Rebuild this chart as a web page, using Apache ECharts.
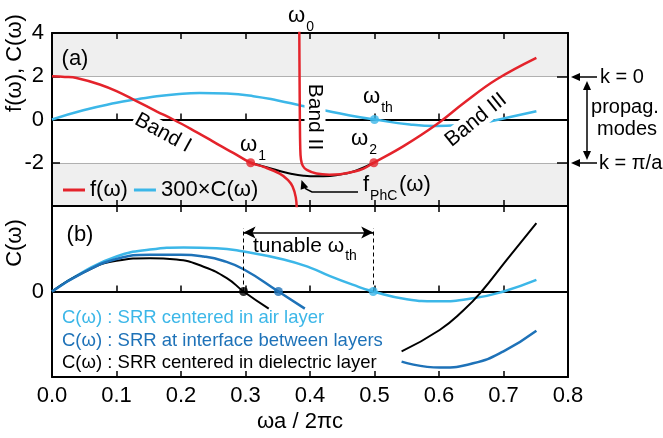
<!DOCTYPE html>
<html>
<head>
<meta charset="utf-8">
<script src="https://cdn.jsdelivr.net/npm/echarts@6/dist/echarts.min.js"></script>
<style>
  html, body { margin: 0; padding: 0; background: #fff; }
  #main { width: 663px; height: 438px; }
</style>
</head>
<body>
<div id="main"></div>
<script>
// 数据
var fBand1 = [[0, 2.0], [0.02, 1.97], [0.038, 1.92], [0.074, 1.62], [0.1, 1.31], [0.131, 0.85], [0.162, 0.38],
  [0.188, 0], [0.215, -0.43], [0.24, -0.85], [0.26, -1.2], [0.281, -1.54], [0.308, -2.0], [0.328, -2.19],
  [0.353, -2.5], [0.366, -2.8], [0.373, -3.1], [0.378, -3.6], [0.3795, -4.2]];
var fBand2 = [[0.3834, 4.2], [0.3838, 2], [0.3843, 0], [0.3848, -1.2], [0.386, -1.85], [0.389, -2.15], [0.395, -2.33],
  [0.41, -2.5], [0.43, -2.55], [0.447, -2.53], [0.467, -2.42], [0.483, -2.27], [0.499, -2.0], [0.545, -1.23],
  [0.596, -0.23], [0.64, 0.8], [0.689, 1.85], [0.751, 2.85]];
var fPhc = [[0.308, -2.0], [0.328, -2.17], [0.353, -2.38], [0.372, -2.52], [0.39, -2.6], [0.41, -2.63],
  [0.431, -2.61], [0.455, -2.5], [0.472, -2.36], [0.499, -2.0]];
var c300 = [[0, 0], [0.0485, 0.43], [0.1, 0.77], [0.131, 0.93], [0.152, 1.03], [0.193, 1.17], [0.229, 1.23],
  [0.271, 1.2], [0.312, 1.08], [0.35, 0.88], [0.387, 0.64], [0.421, 0.43], [0.46, 0.2], [0.5, 0],
  [0.555, -0.23], [0.596, -0.3], [0.63, -0.26], [0.669, -0.14], [0.705, 0.08], [0.751, 0.38]];
var dotsA = [[0.308, -2.0], [0.499, -2.0]];
var dotThA = [[0.5, 0]];

var cAir = [[0, 0], [0.0485, 0.23], [0.1, 0.41], [0.152, 0.49], [0.204, 0.515], [0.255, 0.507], [0.297, 0.468],
  [0.359, 0.375], [0.4, 0.28], [0.431, 0.18], [0.466, 0.08], [0.498, 0], [0.55, -0.09], [0.596, -0.115],
  [0.653, -0.08], [0.7, 0], [0.751, 0.135]];
var cIface1 = [[0, 0], [0.0485, 0.22], [0.1, 0.38], [0.152, 0.43], [0.2, 0.43], [0.235, 0.41], [0.265, 0.36],
  [0.297, 0.26], [0.351, 0], [0.392, -0.2]];
var cIface2 = [[0.542, -0.82], [0.601, -0.89], [0.653, -0.84], [0.7, -0.70], [0.751, -0.46]];
var cDiel1 = [[0, 0], [0.0485, 0.22], [0.1, 0.36], [0.152, 0.39], [0.193, 0.375], [0.235, 0.29], [0.271, 0.157],
  [0.297, 0], [0.336, -0.2]];
var cDiel2 = [[0.542, -0.70], [0.601, -0.45], [0.638, -0.22], [0.666, 0], [0.705, 0.37], [0.751, 0.80]];
var wThRange = [0.297, 0.498];

var fTickLabels = [4, 2, 0, -2];

var RED = '#e4232b', LBLUE = '#3cb7e8', MBLUE = '#1e72b8';
var FONT = 'Liberation Sans';

var myChart = echarts.init(document.getElementById('main'));

// 量字宽，用于下标
var ctx = document.createElement('canvas').getContext('2d');
function textW(s, size) {
  ctx.font = size + 'px "' + FONT + '"';
  return ctx.measureText(s).width;
}

function txt(s, x, y, size, opt) {
  opt = opt || {};
  return {
    type: 'text', x: x, y: y, rotation: opt.rot || 0, z: opt.z || 5,
    style: {
      text: s, fontSize: size, fontFamily: FONT, fill: opt.color || '#000',
      align: opt.align || 'center', verticalAlign: 'middle',
      backgroundColor: opt.bg, padding: opt.bg ? [0, 2] : 0
    }
  };
}
// 主字 + 下标；x 为整体左端
function subTxt(main, sub, x, y, size, subSize) {
  var w = textW(main, size);
  return [
    txt(main, x, y, size, { align: 'left' }),
    txt(sub, x + w + 1, y + size * 0.5, subSize, { align: 'left' })
  ];
}
function line(x1, y1, x2, y2) {
  return { type: 'line', z: 5, shape: { x1: x1, y1: y1, x2: x2, y2: y2 }, style: { stroke: '#000', lineWidth: 1.5 } };
}
function head(x, y, ang) {
  // 箭头，尖在 (x,y)，ang 为指向方向
  var l = 9, w = 4, c = Math.cos(ang), s = Math.sin(ang);
  var bx = x - l * c, by = y - l * s;
  return { type: 'polygon', z: 5, shape: { points: [[x, y], [bx - w * s, by + w * c], [bx + w * s, by - w * c]] }, style: { fill: '#000' } };
}

function xAx(grid, pos, onZero, labels) {
  return {
    type: 'value', gridIndex: grid, position: pos, min: 0, max: 0.8, interval: 0.1,
    axisLine: { show: true, onZero: onZero, lineStyle: { color: '#000', width: 2 } },
    axisTick: { show: true, inside: true, length: 6, lineStyle: { color: '#000', width: 1.5 } },
    axisLabel: { show: labels, fontSize: 22, fontFamily: FONT, color: '#000', margin: 8,
      formatter: function (v) { return v.toFixed(1); } },
    splitLine: { show: false }
  };
}

var option = {
  animation: false,
  grid: [
    { left: 52, top: 33, width: 516, height: 173 },
    { left: 52, top: 206, width: 516, height: 171 }
  ],
  legend: {
    left: 58, top: 174, itemWidth: 22, itemHeight: 3, icon: 'rect', itemGap: 6,
    textStyle: { fontSize: 22, fontFamily: FONT, color: '#000' },
    data: ['f(ω)', '300×C(ω)']
  },
  xAxis: [
    xAx(0, 'bottom', false, false),
    xAx(0, 'top', false, false),
    xAx(0, 'bottom', true, false),
    xAx(1, 'bottom', false, true),
    xAx(1, 'top', false, false),
    xAx(1, 'bottom', true, false)
  ],
  yAxis: [
    {
      type: 'value', gridIndex: 0, position: 'left', min: -4, max: 4, interval: 2,
      axisLine: { show: true, onZero: false, lineStyle: { color: '#000', width: 2 } },
      axisTick: { inside: true, length: 8, lineStyle: { color: '#000', width: 1.5 } },
      axisLabel: { fontSize: 22, fontFamily: FONT, color: '#000', margin: 8,
        formatter: function (v) { return fTickLabels.indexOf(v) >= 0 ? String(v) : ''; } },
      splitLine: { show: true, lineStyle: { color: '#b0b0b0', width: 1 } },
      splitArea: { show: true, areaStyle: { color: ['#efefef', '#ffffff', '#ffffff', '#efefef'] } }
    },
    {
      type: 'value', gridIndex: 0, position: 'right', min: -4, max: 4, interval: 2,
      axisLine: { show: true, onZero: false, lineStyle: { color: '#000', width: 2 } },
      axisTick: { inside: true, length: 11, lineStyle: { color: '#000', width: 1.5 } },
      axisLabel: { show: false }, splitLine: { show: false }
    },
    {
      type: 'value', gridIndex: 1, position: 'left', min: -1, max: 1, interval: 1,
      axisLine: { show: true, onZero: false, lineStyle: { color: '#000', width: 2 } },
      axisTick: { inside: true, length: 8, lineStyle: { color: '#000', width: 1.5 } },
      axisLabel: { fontSize: 22, fontFamily: FONT, color: '#000', margin: 8,
        formatter: function (v) { return v === 0 ? '0' : ''; } },
      splitLine: { show: false }
    },
    {
      type: 'value', gridIndex: 1, position: 'right', min: -1, max: 1, interval: 1,
      axisLine: { show: true, onZero: false, lineStyle: { color: '#000', width: 2 } },
      axisTick: { inside: true, length: 8, lineStyle: { color: '#000', width: 1.5 } },
      axisLabel: { show: false }, splitLine: { show: false }
    }
  ],
  series: [
    // (a)
    { name: '300×C(ω)', type: 'line', xAxisIndex: 0, yAxisIndex: 0, data: c300, smooth: 0.5,
      showSymbol: false, color: LBLUE, lineStyle: { width: 2.5 }, z: 2 },
    { name: 'fPhC', type: 'line', xAxisIndex: 0, yAxisIndex: 0, data: fPhc, smooth: 0.5,
      showSymbol: false, color: '#000', lineStyle: { width: 2 }, z: 3 },
    { name: 'f(ω)', type: 'line', xAxisIndex: 0, yAxisIndex: 0, data: fBand1, smooth: 0.4,
      showSymbol: false, color: RED, lineStyle: { width: 2.5 }, z: 4 },
    { name: 'f(ω)', type: 'line', xAxisIndex: 0, yAxisIndex: 0, data: fBand2, smooth: 0.4,
      showSymbol: false, color: RED, lineStyle: { width: 2.5 }, z: 4 },
    { name: 'dotsA', type: 'scatter', xAxisIndex: 0, yAxisIndex: 0, data: dotsA, symbolSize: 9, color: RED, z: 6 },
    { name: 'dotThA', type: 'scatter', xAxisIndex: 0, yAxisIndex: 0, data: dotThA, symbolSize: 9, color: LBLUE, z: 6 },
    // (b)
    { name: 'air', type: 'line', xAxisIndex: 3, yAxisIndex: 2, data: cAir, smooth: 0.5,
      showSymbol: false, color: LBLUE, lineStyle: { width: 2.5 }, z: 2,
      markLine: { silent: true, symbol: ['none', 'none'], label: { show: false },
        lineStyle: { type: [4, 3], color: '#000', width: 1 },
        data: [
          [{ coord: [wThRange[0], 0] }, { coord: [wThRange[0], 0.74] }],
          [{ coord: [wThRange[1], 0] }, { coord: [wThRange[1], 0.74] }]
        ] } },
    { name: 'iface1', type: 'line', xAxisIndex: 3, yAxisIndex: 2, data: cIface1, smooth: 0.5,
      showSymbol: false, color: MBLUE, lineStyle: { width: 2.5 }, z: 3,
      markLine: { silent: true, symbol: ['arrow', 'arrow'], symbolSize: [9, 12], label: { show: false },
        lineStyle: { type: 'solid', color: '#000', width: 1.5 },
        data: [[{ coord: [wThRange[0], 0.69] }, { coord: [wThRange[1], 0.69] }]] } },
    { name: 'iface2', type: 'line', xAxisIndex: 3, yAxisIndex: 2, data: cIface2, smooth: 0.5,
      showSymbol: false, color: MBLUE, lineStyle: { width: 2.5 }, z: 3 },
    { name: 'diel1', type: 'line', xAxisIndex: 3, yAxisIndex: 2, data: cDiel1, smooth: 0.5,
      showSymbol: false, color: '#000', lineStyle: { width: 2 }, z: 2 },
    { name: 'diel2', type: 'line', xAxisIndex: 3, yAxisIndex: 2, data: cDiel2, smooth: 0.5,
      showSymbol: false, color: '#000', lineStyle: { width: 2 }, z: 2 },
    { name: 'dotsB', type: 'scatter', xAxisIndex: 3, yAxisIndex: 2, symbolSize: 9, z: 6,
      data: [
        { value: cDiel1[7], itemStyle: { color: '#000' } },
        { value: cIface1[8], itemStyle: { color: MBLUE } },
        { value: cAir[11], itemStyle: { color: LBLUE } }
      ] }
  ],
  graphic: [].concat(
    [
      txt('f(ω), C(ω)', 15, 63, 22, { rot: Math.PI / 2 }),
      txt('C(ω)', 15, 243, 22, { rot: Math.PI / 2 }),
      txt('ωa / 2πc', 300, 422, 22),
      txt('(a)', 75, 59, 22),
      txt('(b)', 80, 235, 22),
      txt('Band I', 163, 133, 21, { rot: -0.5, bg: '#fff', z: 3 }),
      txt('Band II', 315, 117, 21, { rot: -Math.PI / 2, bg: '#fff', z: 3 }),
      txt('Band III', 476, 120, 21, { rot: 0.68, bg: '#fff', z: 3 })
    ],
    subTxt('ω', '0', 288, 16, 22, 14),
    subTxt('ω', '1', 240, 145, 22, 14),
    subTxt('ω', '2', 351, 139, 22, 14),
    subTxt('ω', 'th', 363, 97, 22, 14),
    subTxt('f', 'PhC', 363, 185, 22, 14),
    [
      txt('(ω)', 399, 185, 22, { align: 'left' }),
      { type: 'polyline', z: 5, shape: { points: [[358, 192], [312, 192], [306, 189], [303, 184]] },
        style: { stroke: '#000', lineWidth: 1.5, fill: null } },
      head(301.5, 180, -1.9),
      txt('k = 0', 600, 77, 20, { align: 'left' }),
      txt('k = π/a', 599, 163, 20, { align: 'left' }),
      line(597, 77, 576, 77), head(571, 77, Math.PI),
      line(597, 163, 576, 163), head(571, 163, Math.PI),
      line(587, 86, 587, 155), head(587, 81, -Math.PI / 2), head(587, 160, Math.PI / 2),
      txt('propag.', 625, 107, 20),
      txt('modes', 627, 129, 20)
    ],
    subTxt('tunable ω', 'th', 253, 246, 21, 14),
    [
      txt('C(ω) : SRR centered in air layer', 62, 318, 18.5, { align: 'left', color: LBLUE }),
      txt('C(ω) : SRR at interface between layers', 62, 341, 18.5, { align: 'left', color: MBLUE }),
      txt('C(ω) : SRR centered in dielectric layer', 62, 363, 18.5, { align: 'left', color: '#000' })
    ]
  )
};

myChart.setOption(option);
window.addEventListener('resize', function () {
  myChart.resize();
});
</script>
</body>
</html>
